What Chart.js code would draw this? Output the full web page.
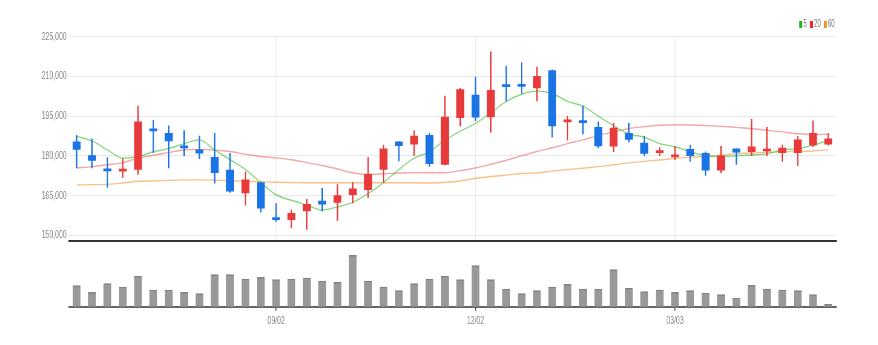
<!DOCTYPE html>
<html>
<head>
<meta charset="utf-8">
<script src="https://cdn.jsdelivr.net/npm/chart.js@4"></script>
<style>
  html, body { margin: 0; padding: 0; background: #fff; overflow: hidden; }
  /* the whole chart is laid out wide and squeezed to give the narrow lettering */
  #wrap { position: absolute; left: 0; top: 0; width: 1464px; height: 345px; transform: scaleX(0.6); transform-origin: 0 0; }
  #priceBox { position: absolute; left: 0; top: 0; width: 1464px; height: 252px; }
  #volBox { position: absolute; left: 0; top: 252px; width: 1464px; height: 93px; }
  #legend { position: absolute; top: 19px; right: 73px; display: flex; font: 10px "Liberation Sans", Arial, sans-serif; color: #777; line-height: 10px; }
  #legend span.item { display: flex; align-items: center; margin-left: 5px; }
  #legend span.box { display: inline-block; width: 5px; height: 7px; margin-right: 2px; }
</style>
</head>
<body>
<div id="wrap">
  <div id="legend"></div>
  <div id="priceBox"><canvas id="priceChart"></canvas></div>
  <div id="volBox"><canvas id="volChart"></canvas></div>
</div>
<script>
// weekly candles
var open  = [185300,180100,174500,174200,174800,190000,188500,183600,182200,179400,
             174600,166000,169900,156200,155900,159200,162900,162400,165300,167200,
             174800,185300,184400,187700,176700,194400,202900,194700,206500,206500,
             205600,212100,192800,192900,190700,183600,188500,184800,181200,179600,
             182400,180900,174600,182600,181500,181800,181200,181200,184000,184400];
var high  = [187700,186400,179300,178900,198700,193400,191300,189500,187400,188500,
             180900,173900,170000,162000,159500,163600,167700,169100,169900,179400,
             184000,185300,189500,188500,202500,205400,209700,219200,213700,215200,
             213500,212400,195000,198700,192800,192200,192200,187300,183100,183600,
             184000,181500,183600,182600,193700,190700,184000,187300,193200,188500];
var low   = [175400,175400,168100,171700,173000,181200,175400,180000,178900,169700,
             166200,161400,158700,155200,152800,152200,159200,155600,162200,164200,
             169900,178100,180000,176000,176500,191300,193200,188900,200700,203500,
             200700,187000,186000,188200,183100,181500,185200,180000,180000,178500,
             177900,172600,173600,176700,180000,180000,177900,176300,183400,184000];
var close = [182400,178200,174300,174600,192800,189400,185600,183000,181000,173600,
             166600,170900,160200,155900,158300,161700,161700,165000,167500,173000,
             182600,183800,187400,177000,194600,205000,194600,204700,206100,206200,
             210000,191300,193200,192500,183700,190400,186200,180900,181400,179800,
             180000,174600,180000,181400,183400,182000,182900,186000,188500,186400];

// moving averages
var ma5  = [187300,185600,182200,179100,179700,181500,182700,184600,186000,182200,
            178500,174800,169900,165300,163200,161400,159500,160700,162400,165700,
            169900,174800,179100,181500,185900,189200,192200,196200,200500,203200,
            204400,203500,200500,198700,195000,191300,188200,187000,184600,183400,
            181500,180000,179700,180000,180300,180700,182200,182700,184000,185800];
var ma20 = [175400,175900,176600,177400,179100,180200,181200,182200,182400,182200,
            181600,180600,179700,179200,178500,177400,176300,175000,173600,173000,
            173200,173500,173600,173600,173600,174400,175400,176800,178300,180000,
            181600,183000,184600,186000,187600,189000,190300,191000,191500,191700,
            191600,191400,191100,190700,190300,189600,189000,188300,188000,188100];
var ma60 = [169000,169100,169200,169700,170400,170500,170700,170900,170900,170800,
            170600,170400,170200,170000,169900,169800,169800,169800,169800,169800,
            169800,169800,169800,169700,170000,170500,171500,172200,172700,173300,
            173600,174200,174800,175300,175900,176600,177300,177900,178400,179000,
            179500,179700,180200,180800,181000,181300,181500,181700,181800,182300];

// volume (thousand shares)
var volume = [210,143,230,197,303,167,167,143,130,320,
              320,277,293,270,277,287,257,243,513,257,
              197,160,230,277,307,270,410,270,177,130,
              160,197,223,177,177,370,183,150,167,143,
              160,137,120, 87,213,177,167,160,120, 23];

var priceTicks = [150000,165000,180000,195000,210000,225000];
var tickIndex = [13, 26, 39];
var tickText = ['09/02', '12/02', '03/03'];

var maNames = ['5', '20', '60'];
var maLineColors = ['rgba(70,195,60,0.65)', 'rgba(236,80,80,0.5)', 'rgba(246,150,60,0.6)'];
var maBoxColors = ['#22b322', '#e8282d', '#f2902a'];

var UP = '#e83a3a';
var DOWN = '#1a74e6';

var SQ = 0.6;            // horizontal squeeze of #wrap
var LEFT = 69 / SQ;      // plot area left edge
var RIGHT_PAD = 1464 - 836 / SQ;

var labels = open.map(function (o, i) { return i; });
var candleColor = open.map(function (o, i) { return close[i] >= o ? UP : DOWN; });

// legend
var legend = document.getElementById('legend');
maNames.forEach(function (name, i) {
  var item = document.createElement('span');
  item.className = 'item';
  item.innerHTML = '<span class="box" style="background:' + maBoxColors[i] + '"></span>' + name;
  legend.appendChild(item);
});

function fixWidth(axis) { axis.width = LEFT; }

// price chart
const priceChart = new Chart(document.getElementById('priceChart'), {
  type: 'bar',
  data: {
    labels: labels,
    datasets: [
      {
        label: 'wick',
        data: low.map(function (l, i) { return [l, high[i]]; }),
        backgroundColor: candleColor,
        barThickness: 1.7,
        grouped: false,
        order: 2
      },
      {
        label: 'body',
        data: open.map(function (o, i) { return [o, close[i]]; }),
        backgroundColor: candleColor,
        barThickness: 12.5,
        minBarLength: 2,
        grouped: false,
        order: 1
      },
      { type: 'line', label: maNames[0], data: ma5, borderColor: maLineColors[0], borderWidth: 1.4, pointRadius: 0, cubicInterpolationMode: 'monotone', order: 3 },
      { type: 'line', label: maNames[1], data: ma20, borderColor: maLineColors[1], borderWidth: 1.4, pointRadius: 0, cubicInterpolationMode: 'monotone', order: 4 },
      { type: 'line', label: maNames[2], data: ma60, borderColor: maLineColors[2], borderWidth: 1.4, pointRadius: 0, cubicInterpolationMode: 'monotone', order: 5 }
    ]
  },
  options: {
    responsive: true,
    maintainAspectRatio: false,
    animation: false,
    layout: { padding: { top: 36.5, right: RIGHT_PAD, bottom: 5, left: 0 } },
    plugins: { legend: { display: false }, tooltip: { enabled: false } },
    scales: {
      x: {
        type: 'category',
        offset: true,
        ticks: { display: false, autoSkip: false },
        grid: {
          offset: false,
          drawTicks: false,
          lineWidth: 1.6,
          color: function (ctx) { return tickIndex.indexOf(ctx.index) >= 0 ? '#ececec' : 'rgba(0,0,0,0)'; }
        },
        border: { display: true, color: '#333', width: 2 }
      },
      y: {
        min: 147800,
        max: 225000,
        afterBuildTicks: function (axis) { axis.ticks = priceTicks.map(function (v) { return { value: v }; }); },
        afterFit: fixWidth,
        grid: { color: '#e9e9e9', drawTicks: false },
        border: { display: false },
        ticks: {
          padding: 4,
          color: '#888',
          font: { family: 'Liberation Sans', size: 11.5 },
          callback: function (v) { return v.toLocaleString('en-US'); }
        }
      }
    }
  }
});

// volume chart
const volChart = new Chart(document.getElementById('volChart'), {
  type: 'bar',
  data: {
    labels: labels,
    datasets: [{
      label: 'volume',
      data: volume,
      backgroundColor: '#999',
      borderColor: '#828282',
      borderWidth: { top: 1.5, left: 0, right: 0, bottom: 0 },
      borderSkipped: 'start',
      barThickness: 13
    }]
  },
  options: {
    responsive: true,
    maintainAspectRatio: false,
    animation: false,
    layout: { padding: { top: 1, right: RIGHT_PAD, bottom: 0, left: 0 } },
    plugins: { legend: { display: false }, tooltip: { enabled: false } },
    scales: {
      x: {
        type: 'category',
        offset: true,
        afterFit: function (axis) { axis.height = 38.3; },
        grid: {
          offset: false,
          drawOnChartArea: false,
          drawTicks: true,
          tickLength: 4,
          lineWidth: 1.6,
          color: function (ctx) { return tickIndex.indexOf(ctx.index) >= 0 ? '#444' : 'rgba(0,0,0,0)'; }
        },
        border: { display: true, color: '#666', width: 2 },
        ticks: {
          autoSkip: false,
          maxRotation: 0,
          padding: 3,
          color: '#888',
          font: { family: 'Liberation Sans', size: 11.5 },
          callback: function (v, i) {
            var k = tickIndex.indexOf(i);
            return k >= 0 ? tickText[k] : '';
          }
        }
      },
      y: {
        min: 0,
        max: 537,
        afterFit: fixWidth,
        ticks: { display: false },
        grid: { display: false, drawTicks: false },
        border: { display: false }
      }
    }
  }
});
</script>
</body>
</html>
